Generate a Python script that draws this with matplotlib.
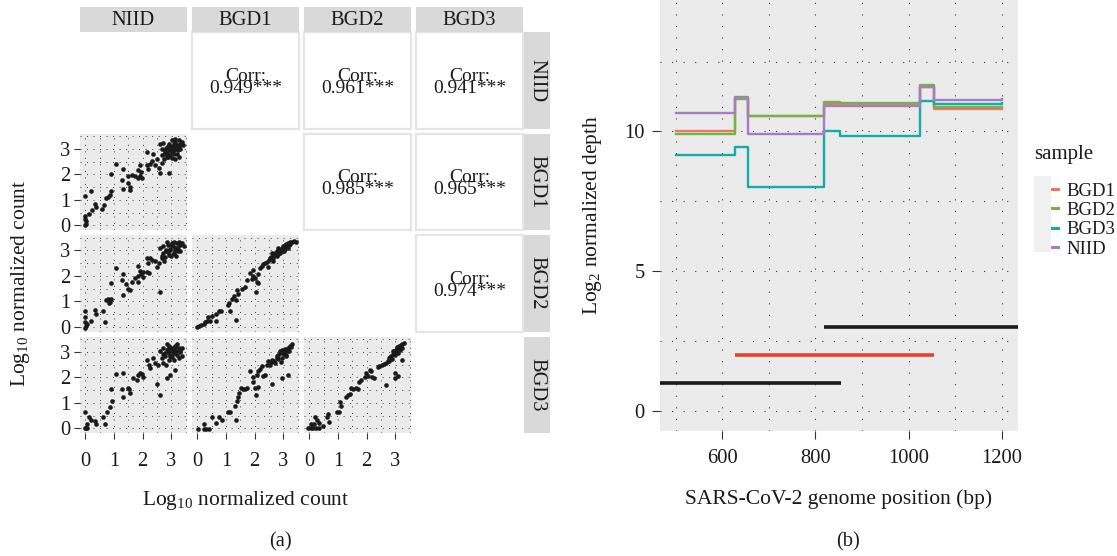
import matplotlib.pyplot as plt
import matplotlib.patches as mpatches

W, H = 1117, 556

plt.rcParams['font.family'] = ['Liberation Serif', 'DejaVu Serif']
plt.rcParams['mathtext.fontset'] = 'custom'
plt.rcParams['mathtext.rm'] = 'Liberation Serif'
plt.rcParams['mathtext.it'] = 'Liberation Serif:italic'

samples = ['NIID', 'BGD1', 'BGD2', 'BGD3']

# ---- panel (a): pairwise log10 counts (x = column sample, y = row sample)
niid_bgd1_x = [0, 0.04, 0, 0.04, 0, 0.15, 0.23, 0.35, 0.39, 0.6, 0.65, 0.73, 0.8, 0.86, 0.91,
               0.19, 0, 0.91, 1.07, 1.3, 1.32, 1.33, 1.48, 1.5, 1.56, 1.58, 1.65, 1.74, 1.83,
               1.91, 1.85, 1.95, 1.97, 1.91, 2.15, 2.2, 2.26, 2.34, 2.44, 2.5, 2.61, 2.56, 2.67,
               2.76, 2.85, 2.15, 2.38, 2.91, 3.02, 3.14, 3.26,
               2.61, 2.73, 2.67, 2.81, 2.91, 2.85, 2.97, 3.02, 3.08, 3.14, 3.2, 3.26, 3.32, 3.38,
               3.23, 3.08, 2.97, 2.76, 3.14, 2.91, 3.02, 3.2, 3.32, 3.4, 2.88, 2.67,
               2.95, 3.05, 3.1, 3.18, 3.0, 2.9, 3.12, 3.22, 2.8, 3.28]
niid_bgd1_y = [0, 0.07, 0.26, 0.16, 0.37, 0.44, 0.6, 0.84, 0.72, 0.65, 0.78, 1.07, 1.11, 1.18, 1.33,
               1.33, 1.15, 2.03, 2.42, 1.76, 1.44, 2.22, 1.93, 1.67, 1.5, 1.37, 1.99, 1.93, 1.86,
               1.93, 2.16, 2.09, 1.86, 2.35, 2.35, 2.22, 2.42, 2.51, 2.38, 2.61, 2.07, 2.25, 2.46,
               2.61, 2.68, 2.88, 2.81, 2.07, 2.64, 2.61, 2.68,
               3.2, 3.24, 3.0, 3.03, 2.94, 2.85, 3.07, 2.88, 3.2, 3.0, 3.14, 3.33, 3.2, 3.27,
               2.94, 2.81, 2.75, 2.81, 3.4, 3.2, 3.33, 2.81, 3.0, 3.14, 2.68, 2.75,
               3.05, 3.1, 2.95, 3.08, 2.98, 3.12, 3.25, 3.0, 2.92, 3.06]

niid_bgd2_x = [0, 0.04, 0, 0.07, 0, 0.19, 0, 0.33, 0.39, 0.62, 0.68, 0.74, 0.8, 0.86, 0.91, 0.82,
               0.91, 1.06, 1.29, 1.33, 1.33, 1.44, 1.5, 1.56, 1.64, 1.74, 1.83, 1.85, 1.91, 1.95,
               2.0, 2.03, 2.15, 2.23, 1.85, 2.61, 2.15, 2.26, 2.2, 2.34, 2.44, 2.5, 2.56, 2.67, 2.76,
               2.61, 2.73, 2.81, 2.88, 2.97, 3.02, 3.08, 3.14, 3.2, 3.26, 3.32, 3.38, 3.24, 3.08,
               2.91, 2.73, 3.0, 3.17, 3.32, 2.85, 3.43, 2.67, 2.79,
               2.95, 3.05, 3.12, 3.18, 2.9, 3.0, 3.22, 2.82, 3.1, 3.28]
niid_bgd2_y = [-0.04, 0.05, 0.18, 0.13, 0.37, 0.22, 0.64, 0.66, 0.51, 0.64, 0.2, 1.05, 1.11, 0.98,
               1.11, 0.92, 1.71, 2.3, 1.84, 1.24, 2.09, 1.68, 1.49, 1.43, 1.77, 1.91, 1.75, 2.0,
               2.19, 2.09, 1.96, 2.17, 2.17, 2.13, 2.39, 1.36, 2.68, 2.7, 2.51, 2.64, 2.58, 2.35,
               2.51, 2.68, 2.58,
               3.09, 3.15, 2.96, 3.21, 3.02, 3.27, 2.86, 3.11, 3.27, 3.34, 3.19, 3.27, 2.96, 3.34,
               2.83, 2.89, 2.77, 2.77, 2.98, 3.34, 3.15, 2.77, 2.73,
               3.05, 3.15, 3.0, 3.1, 2.92, 3.22, 3.05, 3.0, 2.9, 3.2]

bgd1_bgd2_x = [0, 0.12, 0.06, 0.23, 0.29, 0.35, 0.38, 0.46, 0.52, 0.66, 0.66, 0.75, 0.84, 1.1, 1.15,
               1.07, 1.36, 1.21, 1.3, 1.35, 1.38, 1.44, 1.56, 1.67, 1.73, 1.85, 1.9, 1.96, 2.02,
               2.04, 2.08, 2.13, 1.96, 2.11, 2.19, 2.25, 2.31, 2.37, 2.42, 2.48, 2.54, 2.62, 2.65,
               2.71, 2.77, 2.83, 2.88, 2.94, 3.0, 3.06, 3.11, 3.17, 3.23, 3.29, 3.38, 3.44, 2.88,
               2.96, 3.06, 3.15, 2.77, 2.65, 3.2, 3.03, 2.83,
               2.58, 2.68, 2.9, 2.99, 3.09, 3.13, 3.25, 2.73, 2.5]
bgd1_bgd2_y = [0, 0.09, 0.03, 0.13, 0.18, 0.22, 0.38, 0.22, 0.41, 0.22, 0.51, 0.64, 0.64, 0.92, 0.64,
               0.85, 0.28, 1.11, 1.2, 1.07, 1.45, 1.3, 1.49, 1.56, 1.84, 2.13, 1.88, 2.0, 1.91,
               1.36, 1.75, 1.71, 2.22, 2.07, 2.3, 2.39, 2.45, 2.51, 2.55, 2.35, 2.7, 2.9, 2.68,
               2.83, 2.96, 2.86, 3.02, 3.09, 3.15, 3.21, 3.24, 3.27, 3.32, 3.34, 3.37, 3.34, 2.89,
               2.98, 3.06, 3.11, 2.77, 2.58, 3.19, 2.96, 3.09,
               2.75, 2.8, 2.95, 3.0, 3.12, 3.2, 3.26, 2.88, 2.62]

niid_bgd3_x = [0, 0.05, 0.03, -0.02, 0.07, 0.15, 0.21, 0.33, 0.39, 0.62, 0.68, 0.77, 0.86, 0.95,
               0.91, 1.09, 1.32, 1.32, 1.3, 1.48, 1.52, 1.56, 1.68, 1.79, 1.85, 1.91, 1.97, 2.0,
               2.15, 2.21, 2.26, 2.38, 2.44, 2.55, 2.73, 2.81, 2.5, 2.61, 2.85, 2.97, 3.14,
               2.61, 2.73, 2.85, 2.91, 3.02, 3.14, 3.26, 3.38, 3.08, 2.97, 2.79, 3.2, 3.26, 2.67,
               2.91, 3.08, 3.32, 2.85, 2.97, 3.14, 2.73, 3.02, 3.38, 3.2,
               2.9, 3.0, 3.1, 3.05, 2.8, 3.18, 3.3, 2.95, 3.12, 2.88]
niid_bgd3_y = [0, 0, 0.02, 0.63, 0.16, 0.43, 0.33, 0.29, 0.19, 0.43, 0.19, 0.63, 0.85, 1.09,
               1.56, 2.13, 2.16, 1.23, 1.56, 1.59, 1.56, 1.39, 1.96, 1.89, 2.09, 2.16, 2.12, 2.03,
               2.69, 2.49, 2.36, 2.76, 2.56, 2.47, 2.56, 2.49, 1.72, 1.32, 1.96, 2.09, 2.29,
               3.03, 3.16, 3.09, 3.23, 3.16, 3.23, 3.16, 3.13, 2.96, 2.89, 2.83, 2.89, 2.76, 2.76,
               2.69, 2.69, 2.99, 3.29, 3.03, 3.05, 2.93, 2.79, 2.83, 3.3,
               3.0, 3.08, 2.95, 3.12, 2.95, 3.02, 3.05, 2.85, 3.2, 3.12]

bgd1_bgd3_x = [0.03, 0.23, 0.31, 0.4, 0.23, 0.5, 0.66, 0.75, 0.87, 1.07, 1.13, 1.35, 1.33, 1.38,
               1.42, 1.46, 1.53, 1.61, 1.67, 1.73, 1.85, 1.93, 2.02, 2.05, 2.11, 1.96, 2.08, 2.13,
               2.19, 2.25, 2.31, 2.37, 2.42, 2.48, 2.54, 2.6, 2.62, 2.77, 2.83, 2.92, 2.96, 3.0,
               3.06, 3.15, 3.17, 3.23, 3.29, 3.11, 2.94, 2.71, 2.88, 3.03, 2.83, 3.08, 3.2, 2.69,
               2.94, 2.98, 3.12, 2.78, 2.58, 3.26, 2.9, 3.05]
bgd1_bgd3_y = [-0.01, -0.01, -0.01, -0.01, 0.16, 0.43, 0.2, 0.43, 0.33, 0.65, 0.63, 0.33, 0.87,
               1.09, 1.23, 1.4, 1.59, 1.53, 1.56, 1.59, 2.23, 2.03, 1.59, 1.32, 1.63, 1.83, 2.09,
               2.23, 2.33, 2.43, 2.07, 2.09, 2.49, 2.63, 2.47, 2.69, 1.72, 2.76, 2.89, 2.6, 1.96,
               2.96, 3.09, 2.09, 3.16, 3.23, 3.29, 2.89, 2.76, 2.56, 3.03, 2.92, 2.72, 2.83, 3.05,
               2.63, 3.09, 3.0, 3.02, 2.85, 2.6, 3.18, 2.95, 3.1]

bgd2_bgd3_x = [-0.03, 0.05, 0.14, 0.23, 0.35, 0.08, 0.16, 0.2, 0.28, 0.35, 0.48, 0.62, 0.66, 0.69,
               0.97, 1.04, 1.06, 1.12, 1.27, 1.35, 1.43, 1.46, 1.52, 1.64, 1.69, 1.75, 1.81, 1.93,
               1.99, 2.04, 2.12, 2.16, 2.2, 2.27, 2.39, 2.45, 2.54, 2.68, 2.98, 3.0, 3.11, 3.25,
               2.68, 2.74, 2.79, 2.85, 2.91, 2.97, 3.02, 3.08, 3.14, 3.19, 3.25, 2.88, 3.0, 3.08,
               2.93, 3.16, 2.79, 3.05, 3.23, 2.62, 2.82, 2.95, 3.1, 3.3]
bgd2_bgd3_y = [0, 0, 0, 0, 0, 0.16, 0.16, 0.43, 0.33, 0.23, 0.09, 0.43, 0.56, 0.25, 0.65, 0.63,
               1.05, 0.87, 1.23, 1.29, 1.36, 1.59, 1.56, 1.59, 1.56, 1.83, 1.89, 2.03, 2.16, 2.07,
               2.29, 2.23, 2.03, 1.99, 2.39, 2.43, 2.47, 1.69, 2.16, 1.96, 2.07, 2.69,
               2.56, 2.63, 2.76, 2.83, 2.92, 3.03, 3.09, 3.16, 3.23, 3.27, 3.29, 2.73, 2.89, 2.96,
               3.03, 3.09, 2.63, 3.19, 3.16, 2.52, 2.8, 2.98, 3.13, 3.35]

scatter_cells = {(1, 0): (niid_bgd1_x, niid_bgd1_y), (2, 0): (niid_bgd2_x, niid_bgd2_y),
                 (2, 1): (bgd1_bgd2_x, bgd1_bgd2_y), (3, 0): (niid_bgd3_x, niid_bgd3_y),
                 (3, 1): (bgd1_bgd3_x, bgd1_bgd3_y), (3, 2): (bgd2_bgd3_x, bgd2_bgd3_y)}

corr_cells = [(0, 1), (0, 2), (0, 3), (1, 2), (1, 3), (2, 3)]
corr_vals = ['0.949', '0.961', '0.941', '0.985', '0.965', '0.974']

# ---- panel (b): log2 normalized depth (step profiles) and amplicons
step_pos = [500, 628, 655, 819, 852, 1025, 1054, 1200]
depth_bgd1 = [10.0, 11.2, 10.57, 10.98, 10.98, 11.6, 10.8, 10.8]
depth_bgd2 = [9.9, 11.16, 10.54, 11.07, 11.03, 11.65, 10.86, 10.86]
depth_bgd3 = [9.17, 9.46, 8.0, 10.0, 9.82, 11.08, 10.98, 11.0]
depth_niid = [10.66, 11.23, 9.9, 10.9, 10.92, 11.58, 11.14, 11.16]
line_samples = ['BGD1', 'BGD2', 'BGD3', 'NIID']
line_colors = ['#F07464', '#6DB842', '#12ADAA', '#A57DC1']

amp_start = [430, 627, 819]
amp_end = [854, 1055, 1270]
amp_level = [1, 2, 3]
amp_colors = ['#1A1A1A', '#E8412D', '#1A1A1A']

TXT = 14.8
TTL = 15.5
INK = '#1A1A1A'
GRID = '#3A3A3A'

fig = plt.figure(figsize=(W / 100, H / 100), dpi=100)


def px_axes(x0, y0, x1, y1):
    return fig.add_axes([x0 / W, 1 - y1 / H, (x1 - x0) / W, (y1 - y0) / H])


col_x = [80, 192, 304, 416]
row_y = [32, 133.5, 235, 336.5]
cw, ch = 107, 96.5

for r in range(4):
    for c in range(4):
        x0, y0 = col_x[c], row_y[r]
        if (r, c) in scatter_cells:
            ax = px_axes(x0, y0, x0 + cw, y0 + ch)
            xs, ys = scatter_cells[(r, c)]
            ax.scatter(xs, ys, s=11, color=INK, linewidths=0, zorder=3)
            ax.set_facecolor('#EBEBEB')
            ax.set_xlim(-0.18, 3.55)
            ax.set_ylim(-0.18, 3.6)
            ax.set_xticks([0, 1, 2, 3])
            ax.set_yticks([0, 1, 2, 3])
            ax.set_xticks([0.5, 1.5, 2.5, 3.5], minor=True)
            ax.set_yticks([0.5, 1.5, 2.5, 3.5], minor=True)
            ax.grid(which='both', color=GRID, lw=0.7, ls=(0, (1, 5.7)))
            ax.set_axisbelow(True)
            for s in ax.spines.values():
                s.set_visible(False)
            ax.tick_params(which='minor', length=0)
            ax.tick_params(which='major', length=4.5, width=0.8, color='#333333',
                           labelsize=TXT, pad=2.5, labelcolor=INK)
            if c != 0:
                ax.tick_params(axis='y', length=0, labelleft=False)
            if r != 3:
                ax.tick_params(axis='x', length=0, labelbottom=False)
            else:
                ax.tick_params(axis='x', pad=9)
        elif (r, c) in corr_cells:
            ax = px_axes(x0, y0, x0 + cw, y0 + ch)
            ax.set_xticks([])
            ax.set_yticks([])
            for s in ax.spines.values():
                s.set_color('#E5E5E5')
                s.set_linewidth(1.6)
            v = corr_vals[corr_cells.index((r, c))]
            ax.text(0.5, 0.48, 'Corr:\n' + v + '***', ha='center', va='center',
                    multialignment='center', linespacing=0.62, fontsize=TXT - 0.8,
                    color=INK, transform=ax.transAxes)

# strips
for c, name in enumerate(samples):
    sa = px_axes(col_x[c], 7, col_x[c] + cw, 32)
    sa.set_facecolor('#D9D9D9')
    sa.set_xticks([])
    sa.set_yticks([])
    for s in sa.spines.values():
        s.set_visible(False)
    sa.text(0.5, 0.45, name, ha='center', va='center', fontsize=TXT, color=INK,
            transform=sa.transAxes)
for r, name in enumerate(samples):
    sa = px_axes(524, row_y[r], 550, row_y[r] + ch)
    sa.set_facecolor('#D9D9D9')
    sa.set_xticks([])
    sa.set_yticks([])
    for s in sa.spines.values():
        s.set_visible(False)
    sa.text(0.5, 0.5, name, ha='center', va='center', fontsize=TXT, color=INK,
            rotation=-90, transform=sa.transAxes)

fig.text(246 / W, 1 - 500 / H, r'Log$_{10}$ normalized count', ha='center', va='center',
         fontsize=TTL, color=INK)
fig.text(21 / W, 1 - 283 / H, r'Log$_{10}$ normalized count', ha='center', va='center',
         fontsize=TTL, color=INK, rotation=90)
fig.text(280 / W, 1 - 542 / H, '(a)', ha='center', va='center', fontsize=TXT, color=INK)

# ---- panel (b)
axb = px_axes(659.5, 0, 1018, 430.7)
axb.set_facecolor('#EBEBEB')
depths = [depth_bgd1, depth_bgd2, depth_bgd3, depth_niid]
for name, d, col in zip(line_samples, depths, line_colors):
    axb.plot(step_pos, d, drawstyle='steps-post', color=col, lw=1.7, label=name)
for x0, x1, yv, col in zip(amp_start, amp_end, amp_level, amp_colors):
    axb.hlines(yv, x0, x1, color=col, lw=2.6)
axb.set_xlim(465, 1235)
axb.set_ylim(-0.7, 14.7)
axb.set_xticks([600, 800, 1000, 1200])
axb.set_xticks([500, 700, 900, 1100], minor=True)
axb.set_yticks([0, 5, 10])
axb.set_yticks([2.5, 7.5, 12.5], minor=True)
axb.grid(which='both', color=GRID, lw=0.8, ls=(0, (1, 9.4)))
axb.set_axisbelow(True)
for s in axb.spines.values():
    s.set_visible(False)
axb.tick_params(which='minor', length=0)
axb.tick_params(which='major', length=5.5, width=0.8, color='#333333', labelsize=TXT,
                labelcolor=INK)
axb.tick_params(axis='x', pad=8)
axb.tick_params(axis='y', pad=5)
axb.set_xlabel('SARS-CoV-2 genome position (bp)', fontsize=TTL, color=INK, labelpad=15)
axb.set_ylabel(r'Log$_2$ normalized depth', fontsize=TTL, color=INK, labelpad=15)
fig.text(848 / W, 1 - 542 / H, '(b)', ha='center', va='center', fontsize=TXT, color=INK)

# legend
fig.text(1034 / W, 1 - 155 / H, 'sample', ha='left', va='center', fontsize=TTL - 0.5, color=INK)
fig.add_artist(mpatches.Rectangle((1034 / W, 1 - 252 / H), 17 / W, 76 / H,
                                  transform=fig.transFigure, color='#F0F0F0', lw=0))
handles, labels = axb.get_legend_handles_labels()
leg = axb.legend(handles, labels, loc='upper left', bbox_to_anchor=(1033 / W, 1 - 173 / H),
                 bbox_transform=fig.transFigure, frameon=False, fontsize=13.5,
                 handlelength=0.85, handletextpad=0.45, labelspacing=0.12, borderpad=0)
for t in leg.get_texts():
    t.set_color(INK)
for h in leg.get_lines():
    h.set_linewidth(2.2)

fig.savefig('out.png', dpi=100)
